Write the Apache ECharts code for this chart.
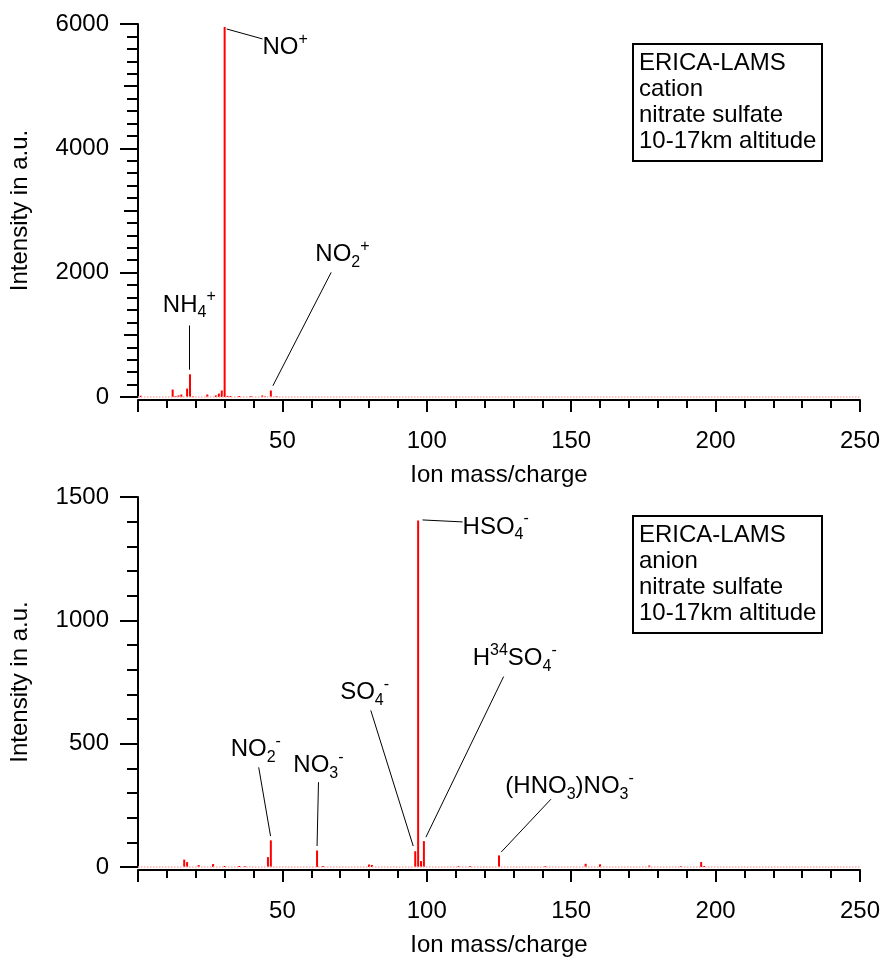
<!DOCTYPE html>
<html>
<head>
<meta charset="utf-8">
<script src="https://cdn.jsdelivr.net/npm/echarts@6/dist/echarts.min.js"></script>
<style>
  html, body { margin: 0; padding: 0; background: #fff; }
  #chart { width: 883px; height: 958px; }
</style>
</head>
<body>
<div id="chart"></div>
<script>
// cation spectrum (top)
const cationMass = [1, 12, 13, 14, 15, 17, 18, 19, 24, 27, 28, 29, 30, 31, 32, 35, 39, 43, 44, 46, 48]
const cationIntensity = [20, 120, 15, 25, 40, 135, 365, 12, 40, 25, 55, 105, 5950, 18, 15, 15, 15, 25, 12, 105, 15]

// anion spectrum (bottom)
const anionMass = [16, 17, 21, 26, 30, 35, 37, 45, 46, 62, 64, 80, 81, 96, 97, 98, 99, 111, 115, 125, 141, 155, 160, 177, 188, 195, 196]
const anionIntensity = [30, 20, 8, 12, 4, 4, 3, 40, 108, 67, 4, 10, 8, 64, 1405, 24, 105, 3, 3, 47, 3, 13, 11, 6, 3, 20, 4]

// peak labels: text, label anchor [m/z, intensity], leader line from -> to
const cationLabels = [
  { text: "NO{sup|+}", at: [43.1, 5620], from: [43.1, 5760], to: [30.7, 5920] },
  { text: "NH{sub|4}{sup|+}", at: [8.6, 1480], from: [17.9, 1150], to: [17.9, 440] },
  { text: "NO{sub|2}{sup|+}", at: [61.4, 2290], from: [66.9, 2005], to: [46.7, 180] }
]
const anionLabels = [
  { text: "HSO{sub|4}{sup|-}", at: [112.4, 1378], from: [112.4, 1399], to: [98.5, 1407] },
  { text: "H{sup|34}SO{sub|4}{sup|-}", at: [115.9, 845], from: [126.6, 772], to: [99.7, 121] },
  { text: "SO{sub|4}{sup|-}", at: [70, 706], from: [80.6, 635], to: [95.3, 85] },
  { text: "NO{sub|2}{sup|-}", at: [32.1, 475], from: [41.8, 404], to: [45.9, 125] },
  { text: "NO{sub|3}{sup|-}", at: [53.8, 410], from: [62.5, 344], to: [62, 85] },
  { text: "(HNO{sub|3})NO{sub|3}{sup|-}", at: [127.2, 326], from: [143, 275], to: [125.8, 61] }
]

const xTicks = [50, 100, 150, 200, 250]
const infoTop = ["ERICA-LAMS", "cation", "nitrate sulfate", "10-17km altitude"]
const infoBottom = ["ERICA-LAMS", "anion", "nitrate sulfate", "10-17km altitude"]

const font = "Liberation Sans"
const black = "#000"

const chart = echarts.init(document.getElementById("chart"))

function makeX(gridIndex) {
  return {
    gridIndex: gridIndex,
    type: "value",
    min: 0,
    max: 250,
    interval: 50,
    offset: 3,
    name: "Ion mass/charge",
    nameLocation: "middle",
    nameGap: 63,
    nameTextStyle: { fontFamily: font, fontSize: 24, color: black },
    axisLine: { show: true, onZero: false, lineStyle: { color: black, width: 2 } },
    axisTick: { show: true, length: 12, lineStyle: { color: black, width: 2 } },
    minorTick: { show: true, splitNumber: 5, length: 8, lineStyle: { color: black, width: 2 } },
    axisLabel: {
      margin: 29,
      fontFamily: font,
      fontSize: 24,
      color: black,
      formatter: function (v) { return xTicks.indexOf(v) >= 0 ? String(v) : "" }
    },
    splitLine: { show: false }
  }
}

function makeY(gridIndex, max, interval, minorSplit) {
  return {
    gridIndex: gridIndex,
    type: "value",
    min: 0,
    max: max,
    interval: interval,
    name: "Intensity in a.u.",
    nameLocation: "middle",
    nameGap: 106,
    nameTextStyle: { fontFamily: font, fontSize: 24, color: black },
    axisLine: { show: true, lineStyle: { color: black, width: 2 } },
    axisTick: { show: true, length: 18, lineStyle: { color: black, width: 2 } },
    minorTick: { show: true, splitNumber: minorSplit, length: 11, lineStyle: { color: black, width: 2 } },
    axisLabel: {
      margin: 29,
      fontFamily: font,
      fontSize: 24,
      color: black,
      formatter: function (v) { return String(v) }
    },
    splitLine: { show: false }
  }
}

// extra tick-only axis for the medium 1000-step ticks on the top plot
const midTicksTop = {
  gridIndex: 0,
  type: "value",
  min: 0,
  max: 6000,
  interval: 1000,
  position: "left",
  axisLine: { show: false },
  axisTick: { show: true, length: 14, lineStyle: { color: black, width: 2 } },
  axisLabel: { show: false },
  splitLine: { show: false }
}

const richText = {
  sub: { fontFamily: font, fontSize: 16, color: black, verticalAlign: "bottom", lineHeight: 32 },
  sup: { fontFamily: font, fontSize: 16, color: black, verticalAlign: "top", lineHeight: 32 }
}

function barSeries(idx, mass, intensity) {
  return {
    type: "bar",
    xAxisIndex: idx,
    yAxisIndex: idx,
    barWidth: 2,
    itemStyle: { color: "#ff0000" },
    silent: true,
    data: mass.map(function (m, i) { return [m, intensity[i]] }),
    markLine: {
      silent: true,
      symbol: "none",
      label: { show: false },
      lineStyle: { color: "#ffb0b0", type: "dotted", width: 1.5 },
      data: [{ yAxis: 0 }]
    }
  }
}

function labelSeries(idx, labels) {
  return {
    type: "scatter",
    xAxisIndex: idx,
    yAxisIndex: idx,
    symbolSize: 0,
    silent: true,
    itemStyle: { opacity: 1 },
    data: labels.map(function (l) { return { value: l.at, name: l.text } }),
    label: {
      show: true,
      position: "right",
      distance: 0,
      fontFamily: font,
      fontSize: 24,
      color: black,
      opacity: 1,
      lineHeight: 32,
      formatter: function (p) { return p.name },
      rich: richText
    },
    markLine: {
      silent: true,
      symbol: "none",
      label: { show: false },
      lineStyle: { color: black, type: "solid", width: 1, opacity: 1 },
      data: labels.map(function (l) { return [{ coord: l.from }, { coord: l.to }] })
    }
  }
}

function infoBox(lines, top) {
  return {
    text: lines.join("\n"),
    left: 633,
    top: top,
    padding: [6, 6, 7, 6],
    borderColor: black,
    borderWidth: 2,
    textStyle: { fontFamily: font, fontSize: 24, fontWeight: "normal", color: black, lineHeight: 26 }
  }
}

chart.setOption({
  backgroundColor: "#fff",
  animation: false,
  title: [infoBox(infoTop, 44), infoBox(infoBottom, 516)],
  grid: [
    { left: 137, right: 21, top: 24, height: 373 },
    { left: 137, right: 21, top: 497, height: 371 }
  ],
  xAxis: [makeX(0), makeX(1)],
  yAxis: [makeY(0, 6000, 2000, 10), makeY(1, 1500, 500, 5), midTicksTop],
  series: [
    barSeries(0, cationMass, cationIntensity),
    barSeries(1, anionMass, anionIntensity),
    labelSeries(0, cationLabels),
    labelSeries(1, anionLabels)
  ]
})
</script>
</body>
</html>
